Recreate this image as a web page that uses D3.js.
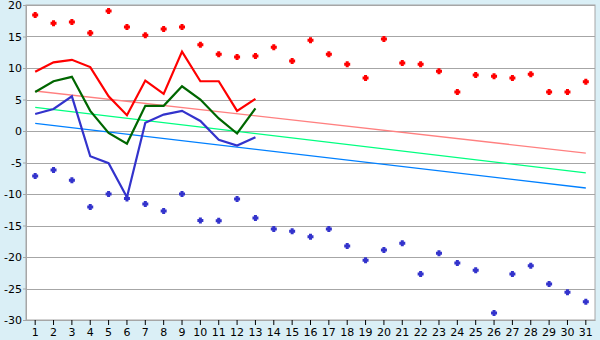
<!DOCTYPE html>
<html lang="en">
<head>
<meta charset="UTF-8">
<title>Chart</title>
<script src="https://d3js.org/d3.v7.min.js"></script>
<style>
  body { margin: 0; background: #daeff6; }
  svg { display: block; }
  .tick text { font-family: "DejaVu Sans", sans-serif; font-size: 11px; fill: #000; }
</style>
</head>
<body>
<svg width="600" height="340"></svg>
<script>
// categories (days)
const days = d3.range(1, 32);
const yTicks = [-30, -25, -20, -15, -10, -5, 0, 5, 10, 15, 20];

// scattered red points (upper)
const redDots = [18.4, 17.1, 17.3, 15.55, 19.05, 16.5, 15.2, 16.2, 16.5, 13.7,
  12.2, 11.75, 11.9, 13.3, 11.1, 14.4, 12.2, 10.6, 8.4, 14.6,
  10.8, 10.6, 9.5, 6.2, 8.9, 8.7, 8.4, 9.0, 6.2, 6.2, 7.8];
// scattered blue points (lower)
const blueDots = [-7.15, -6.2, -7.8, -12.05, -10.0, -10.7, -11.6, -12.7, -10.0, -14.2,
  -14.25, -10.8, -13.8, -15.55, -15.9, -16.8, -15.55, -18.25, -20.5, -18.9,
  -17.8, -22.7, -19.4, -20.95, -22.1, -28.9, -22.7, -21.4, -24.3, -25.6, -27.1];

// thick lines, days 1..13
const redLine = [9.4, 10.9, 11.3, 10.15, 5.5, 2.5, 8.0, 5.9, 12.6, 7.9, 7.9, 3.2, 5.1];
const greenLine = [6.2, 7.9, 8.6, 3.2, -0.3, -2.0, 4.0, 4.0, 7.1, 5.0, 2.0, -0.4, 3.6];
const blueLine = [2.7, 3.5, 5.5, -4.0, -5.1, -10.5, 1.3, 2.6, 3.2, 1.6, -1.4, -2.3, -1.0];

// trend lines: [start value at day 1, end value at day 31]
const pinkTrend = [6.35, -3.5];
const greenTrend = [3.75, -6.65];
const blueTrend = [1.2, -9.05];

const svg = d3.select("svg");
const margin = { top: 5, right: 5, bottom: 20, left: 26 };
const width = 600, height = 340;

const x = d3.scaleBand()
  .domain(days)
  .range([margin.left, width - margin.right]);
const y = d3.scaleLinear()
  .domain([-30, 20])
  .range([height - margin.bottom, margin.top]);
const cx = d => x(d) + x.bandwidth() / 2;

// plot background
svg.append("rect")
  .attr("x", margin.left).attr("y", margin.top)
  .attr("width", width - margin.right - margin.left)
  .attr("height", height - margin.bottom - margin.top)
  .attr("fill", "#fff")
  .attr("stroke", "#a6a6a6");

// gridlines
svg.append("g").selectAll("line")
  .data(yTicks)
  .join("line")
  .attr("x1", margin.left).attr("x2", width - margin.right)
  .attr("y1", d => Math.round(y(d)) + 0.5).attr("y2", d => Math.round(y(d)) + 0.5)
  .attr("stroke", "#a6a6a6");

// axes
const yAxis = svg.append("g")
  .attr("transform", `translate(${margin.left},0)`)
  .call(d3.axisLeft(y).tickValues(yTicks).tickSize(3).tickPadding(1).tickFormat(d => d));
yAxis.selectAll("line, path").attr("stroke", "#a6a6a6");

const xAxis = svg.append("g")
  .attr("transform", `translate(0,${height - margin.bottom})`)
  .call(d3.axisBottom(x).tickSize(5).tickPadding(3).tickSizeOuter(0));
xAxis.selectAll("line").attr("stroke", "#000");
xAxis.select("path").attr("stroke", "#a6a6a6");

// trend lines
const trends = [
  { vals: pinkTrend, color: "#ff8080" },
  { vals: greenTrend, color: "#00ff80" },
  { vals: blueTrend, color: "#0080ff" }
];
trends.forEach(t => {
  svg.append("line")
    .attr("x1", cx(days[0])).attr("y1", y(t.vals[0]))
    .attr("x2", cx(days[days.length - 1])).attr("y2", y(t.vals[1]))
    .attr("stroke", t.color)
    .attr("stroke-width", 1.3);
});

// thick lines
const line = d3.line()
  .x((d, i) => cx(days[i]))
  .y(d => y(d));
[
  { vals: redLine, color: "#ff0000" },
  { vals: greenLine, color: "#006600" },
  { vals: blueLine, color: "#3333cc" }
].forEach(s => {
  svg.append("path")
    .datum(s.vals)
    .attr("d", line)
    .attr("fill", "none")
    .attr("stroke", s.color)
    .attr("stroke-width", 2.2)
    .attr("stroke-linejoin", "miter");
});

// scatter markers: chunky plus shape
const plus = "M-1.5,-3H1.5V-1.5H3V1.5H1.5V3H-1.5V1.5H-3V-1.5H-1.5Z";
[
  { vals: redDots, color: "#ff0000" },
  { vals: blueDots, color: "#3333cc" }
].forEach(s => {
  svg.append("g").selectAll("path")
    .data(s.vals)
    .join("path")
    .attr("d", plus)
    .attr("transform", (d, i) => `translate(${cx(days[i])},${y(d)})`)
    .attr("fill", s.color);
});
</script>
</body>
</html>
